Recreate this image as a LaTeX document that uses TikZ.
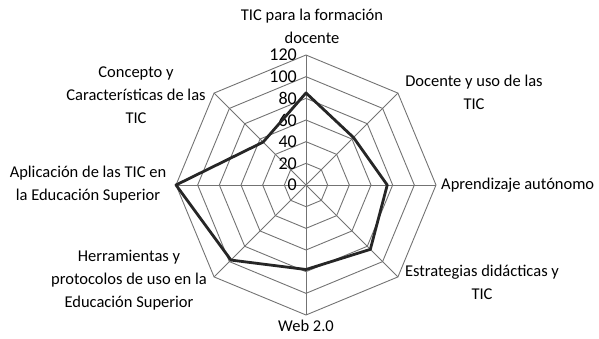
\documentclass[tikz,border=0pt]{standalone}
\usepackage{fontspec}
\setmainfont{Carlito}
\def\chartrad{130}
\def\unitrad{1.0833}
\usepackage{tikz}

\begin{document}
\begin{tikzpicture}[x=1pt,y=1pt]
            \tikzstyle{grid line}=[draw=black!55,line width=0.9pt]
            \tikzstyle{data line}=[draw=black!85,line width=2.8pt,line join=round]
            \tikzstyle{annot}=[font=\fontsize{16.5}{23}\selectfont,align=center,inner sep=0pt]
            \tikzstyle{tick}=[font=\fontsize{18}{20}\selectfont,anchor=east,inner sep=0pt]

            \useasboundingbox (-306,-153) rectangle (293,185);

            % Draw the octagon rings
            \foreach \r in {1,...,6}
                \draw[grid line] (90:\r*20*\unitrad) \foreach \k in {1,...,7} { -- (90-\k*45:\r*20*\unitrad) } -- cycle;

            % Draw the spokes
            \foreach \k in {0,...,7}
                \draw[grid line] (0,0) -- (90-\k*45:\chartrad);

            % Tick labels on the top spoke
            \foreach \v in {0,20,...,120}
                \node[tick] (T-\v) at (-9,\v*\unitrad) {\v};

            % Data points
            \foreach \name / \v in {1/85,2/62,3/75,4/84,5/78,6/98,7/120,8/56}
                \coordinate (P-\name) at (90-\name*45+45:\v*\unitrad);
            \draw[data line] (P-1) -- (P-2) -- (P-3) -- (P-4) -- (P-5) -- (P-6) -- (P-7) -- (P-8) -- cycle;

            % Annotate the axes
            \node[annot] (A-1) at (6,159) {TIC para la formación\\docente};
            \node[annot] (A-2) at (168,93) {Docente y uso de las\\TIC};
            \node[annot,anchor=west] (A-3) at (135,0) {Aprendizaje autónomo};
            \node[annot] (A-4) at (176,-97) {Estrategias didácticas y\\TIC};
            \node[annot] (A-5) at (0,-141) {Web 2.0};
            \node[annot] (A-6) at (-177,-95) {Herramientas y\\protocolos de uso en la\\Educación Superior};
            \node[annot] (A-7) at (-218,0) {Aplicación de las TIC en\\la Educación Superior};
            \node[annot] (A-8) at (-170,90) {Concepto y\\Características de las\\TIC};
\end{tikzpicture}
\end{document}
